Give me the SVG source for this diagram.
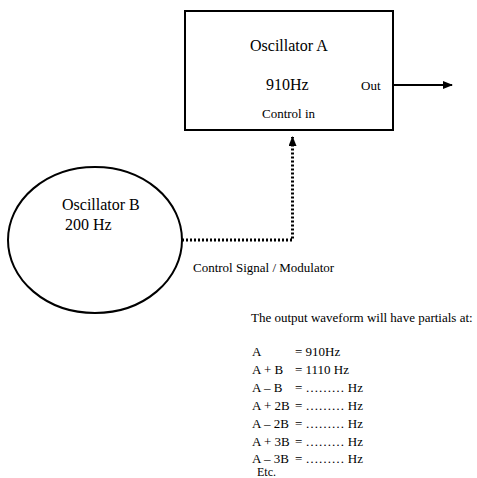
<svg xmlns="http://www.w3.org/2000/svg" width="477" height="478" viewBox="0 0 477 478">
<defs>
<marker id="ah" markerWidth="10" markerHeight="8" refX="9" refY="4" orient="auto" markerUnits="userSpaceOnUse">
<path d="M0,0 L10,4 L0,8 Z" fill="#000"/>
</marker>
<style>
text{font-family:"Liberation Serif","Times New Roman",serif;fill:#000}
.l{font-size:16px}
.s{font-size:13px}
.shape{fill:#fff;stroke:#000;stroke-width:2}
</style>
</defs>
<rect width="477" height="478" fill="#fff"/>
<g id="oscA">
<rect class="shape" x="185" y="11" width="208" height="119"/>
<text class="l" x="250" y="51">Oscillator A</text>
<text class="l" x="266" y="90">910Hz</text>
<text class="s" x="361" y="90">Out</text>
<text class="s" x="262" y="118">Control in</text>
</g>
<g id="oscB">
<ellipse class="shape" cx="95" cy="240" rx="87" ry="73"/>
<text class="l" x="62" y="210">Oscillator B</text>
<text class="l" x="65" y="230">200 Hz</text>
</g>
<g id="connectors">
<line x1="393" y1="85" x2="452" y2="85" stroke="#000" stroke-width="2" marker-end="url(#ah)"/>
<path d="M182,240 H292.5 V137" fill="none" stroke="#000" stroke-width="3" stroke-dasharray="2,2" marker-end="url(#ah)"/>
<text class="s" x="193" y="272">Control Signal / Modulator</text>
</g>
<g id="notes" class="s">
<text x="251" y="322">The output waveform will have partials at:</text>
<text x="252" y="356">A</text><text x="295" y="356">= 910Hz</text>
<text x="252" y="374">A + B</text><text x="295" y="374">= 1110 Hz</text>
<text x="252" y="392">A – B</text><text x="295" y="392">= ……… Hz</text>
<text x="252" y="410">A + 2B</text><text x="295" y="410">= ……… Hz</text>
<text x="252" y="428">A – 2B</text><text x="295" y="428">= ……… Hz</text>
<text x="252" y="446">A + 3B</text><text x="295" y="446">= ……… Hz</text>
<text x="252" y="463">A – 3B</text><text x="295" y="463">= ……… Hz</text>
<text x="257" y="476" font-size="12">Etc.</text>
</g>
</svg>
